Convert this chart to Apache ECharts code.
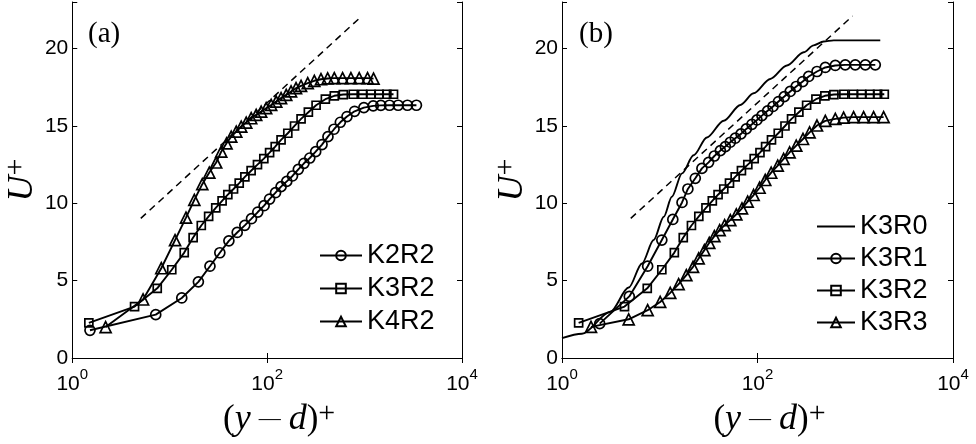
<!DOCTYPE html>
<html><head><meta charset="utf-8">
<script src="https://cdn.jsdelivr.net/npm/echarts@6/dist/echarts.min.js"></script>
<style>html,body{margin:0;padding:0;background:#fff}#c{width:976px;height:444px}</style>
</head><body><div id="c"></div>
<script>
// ---- tick labels ----
const xTicks = [1, 100, 10000];
const yTicks = [0, 5, 10, 15, 20];

// ---- log-law reference (dashed) ----
const logLawX = [5.05, 940];
const logLawY = [9.02, 22.1];

// ---- panel (a) ----
const k2r2X = [1.52, 7.19, 13.3, 19.7, 25.9, 32.7, 40.5, 49.3, 59.0, 69.1, 80.2, 93.1, 106, 122, 139, 159, 182, 209, 239, 274, 315, 366, 421, 486, 564, 660, 790, 984, 1227, 1469, 1803, 2213, 2754, 3406];
const k2r2Y = [1.79, 2.80, 3.88, 4.92, 5.93, 6.80, 7.57, 8.11, 8.57, 9.00, 9.43, 9.84, 10.27, 10.68, 11.07, 11.41, 11.76, 12.19, 12.58, 12.92, 13.33, 13.79, 14.30, 14.78, 15.23, 15.60, 15.94, 16.18, 16.29, 16.32, 16.33, 16.33, 16.33, 16.33];

const k3r2X = [1.48, 4.36, 7.45, 10.5, 14.1, 17.4, 21.1, 25.1, 29.7, 34.5, 39.5, 45.2, 51.7, 59.1, 68.5, 79.6, 92.5, 106, 121, 139, 163, 191, 223, 265, 318, 396, 489, 605, 765, 954, 1161, 1413, 1693, 1982];
const k3r2Y = [2.27, 3.32, 4.50, 5.70, 6.81, 7.78, 8.56, 9.15, 9.70, 10.15, 10.55, 10.92, 11.30, 11.70, 12.10, 12.49, 12.88, 13.27, 13.66, 14.09, 14.52, 14.99, 15.45, 15.88, 16.33, 16.72, 16.94, 17.02, 17.04, 17.04, 17.04, 17.04, 17.04, 17.04];

const k4r2X = [2.2, 5.33, 8.2, 11.35, 14.7, 17.9, 21.6, 25.5, 30.0, 33.8, 38.3, 42.8, 48.2, 54.2, 61.0, 68.6, 77.2, 86.8, 97.7, 110, 124, 139, 157, 176, 198, 223, 261, 305, 357, 418, 489, 595, 724, 881, 1073, 1236];
const k4r2Y = [2.0, 3.78, 5.80, 7.62, 9.07, 10.22, 11.23, 11.98, 12.63, 13.33, 13.87, 14.30, 14.63, 14.95, 15.21, 15.49, 15.71, 15.92, 16.14, 16.35, 16.57, 16.79, 17.0, 17.22, 17.43, 17.58, 17.76, 17.91, 18.01, 18.06, 18.08, 18.08, 18.08, 18.08, 18.08, 18.05];

// ---- panel (b) ----
const k3r0X = [1, 1.60, 3.12, 4.81, 6.58, 8.66, 11.0, 13.3, 16.9, 22.2, 30.4, 45.1, 66.8, 91.3, 135, 200, 297, 375, 475, 601, 1803];
const k3r0Y = [1.29, 1.57, 2.98, 4.55, 6.11, 7.62, 9.13, 10.42, 11.93, 13.1, 14.25, 15.33, 16.35, 17.1, 18.03, 18.9, 19.75, 20.2, 20.45, 20.52, 20.52];

const k3r1X = [2.43, 4.88, 7.52, 10.5, 13.6, 16.9, 19.4, 23.1, 27.0, 31.6, 36.2, 41.7, 46.9, 52.7, 59.3, 67.8, 76.8, 87.7, 98.8, 111, 127, 144, 164, 188, 216, 249, 290, 334, 406, 494, 625, 790, 1000, 1268, 1603];
const k3r1Y = [2.22, 3.98, 5.93, 7.62, 8.95, 10.05, 10.92, 11.61, 12.25, 12.64, 13.05, 13.40, 13.66, 13.94, 14.20, 14.48, 14.80, 15.10, 15.38, 15.66, 15.97, 16.25, 16.57, 16.89, 17.22, 17.54, 17.86, 18.19, 18.51, 18.77, 18.90, 18.94, 18.94, 18.94, 18.94];

const k3r3X = [1.98, 4.81, 7.52, 10.1, 12.8, 15.6, 18.7, 21.9, 25.0, 28.6, 32.1, 36.2, 41.0, 46.1, 52.7, 60.7, 69.4, 79.3, 91.3, 105, 120, 138, 161, 185, 213, 249, 292, 341, 406, 494, 625, 760, 962, 1218, 1541, 1951];
const k3r3Y = [2.01, 2.50, 3.09, 3.62, 4.21, 4.77, 5.35, 5.89, 6.43, 6.97, 7.44, 7.87, 8.26, 8.59, 8.91, 9.28, 9.67, 10.10, 10.53, 11.00, 11.50, 11.97, 12.43, 12.86, 13.29, 13.72, 14.15, 14.58, 15.02, 15.32, 15.45, 15.53, 15.56, 15.56, 15.56, 15.56];

const legendA = ['K2R2', 'K3R2', 'K4R2'];
const legendB = ['K3R0', 'K3R1', 'K3R2', 'K3R3'];

const zip = (xs, ys) => xs.map((x, i) => [x, ys[i]]);
const SANS = 'Liberation Sans';
const SERIF = 'Liberation Serif';

function xAxes(gi) {
  const base = {
    type: 'log', logBase: 10, min: 1, max: 10000, interval: 2, gridIndex: gi,
    axisLine: { show: true, lineStyle: { color: '#000', width: 1 } },
    axisTick: { show: true, inside: true, length: 5, lineStyle: { color: '#000', width: 1 } },
    minorTick: { show: false }, splitLine: { show: false }
  };
  return [
    Object.assign({}, base, {
      position: 'bottom',
      axisLabel: {
        show: true, margin: 9,
        formatter: v => xTicks.includes(Math.round(v)) ? '{b|10}{s|' + Math.round(Math.log10(v)) + '}' : '',
        rich: {
          b: { fontFamily: SANS, fontSize: 21, color: '#000', lineHeight: 34 },
          s: { fontFamily: SANS, fontSize: 15, color: '#000', lineHeight: 15, verticalAlign: 'top' }
        }
      },
      name: '{n|(}{i|y}{sp|\u2002}{m|—}{sp|\u2002}{i|d}{n|)}{p|+}', nameLocation: 'middle', nameGap: 35,
      nameTextStyle: {
        padding: [0, 0, 0, 24],
        rich: {
          n: { fontFamily: SERIF, fontSize: 35, color: '#000', lineHeight: 40 },
          sp: { fontFamily: SERIF, fontSize: 16, color: '#000', lineHeight: 40 },
          m: { fontFamily: SERIF, fontSize: 22, color: '#000', lineHeight: 40 },
          i: { fontFamily: SERIF, fontStyle: 'italic', fontSize: 36, color: '#000', lineHeight: 40 },
          p: { fontFamily: SERIF, fontSize: 30, color: '#000', lineHeight: 26, verticalAlign: 'top' }
        }
      }
    }),
    Object.assign({}, base, { position: 'top', axisLabel: { show: false } })
  ];
}

function yAxes(gi) {
  const base = {
    type: 'value', min: 0, max: 23, interval: 5, gridIndex: gi,
    axisLine: { show: true, lineStyle: { color: '#000', width: 1 } },
    axisTick: { show: true, inside: true, length: 5, lineStyle: { color: '#000', width: 1 } },
    splitLine: { show: false }
  };
  return [
    Object.assign({}, base, {
      position: 'left',
      axisLabel: {
        show: true, margin: 4, fontFamily: SANS, fontSize: 21, color: '#000',
        formatter: v => yTicks.includes(v) ? String(v) : ''
      },
      name: '{u|U}{p|+}', nameLocation: 'middle', nameGap: 21,
      nameTextStyle: {
        rich: {
          u: { fontFamily: SERIF, fontStyle: 'italic', fontSize: 36, color: '#000', lineHeight: 44 },
          p: { fontFamily: SERIF, fontSize: 30, color: '#000', lineHeight: 28, verticalAlign: 'top' }
        }
      }
    }),
    Object.assign({}, base, { position: 'right', axisLabel: { show: false } })
  ];
}

function markerSeries(name, xs, ys, symbol, size, gi) {
  return {
    name, type: 'line', xAxisIndex: gi * 2, yAxisIndex: gi * 2,
    data: zip(xs, ys), symbol, symbolSize: size, showAllSymbol: true,
    lineStyle: { color: '#000', width: 1.9 },
    itemStyle: { color: 'rgba(255,255,255,0)', borderColor: '#000', borderWidth: 1.7 },
    emphasis: { disabled: true }, z: 3
  };
}
function dashSeries(gi) {
  return {
    name: 'loglaw' + gi, type: 'line', xAxisIndex: gi * 2, yAxisIndex: gi * 2,
    data: zip(logLawX, logLawY), symbol: 'none',
    lineStyle: { color: '#000', width: 1.5, type: [7, 5] }, z: 2
  };
}

const legendCommon = {
  orient: 'vertical', itemGap: 1, itemHeight: 12,
  textStyle: { fontFamily: SANS, fontSize: 27, color: '#000', lineHeight: 31 },
  selectedMode: false
};

const option = {
  animation: false,
  backgroundColor: '#fff',
  title: [
    { text: '(a)', left: 83, top: 15, textStyle: { fontFamily: SERIF, fontSize: 29, fontWeight: 'normal', color: '#000' } },
    { text: '(b)', left: 574, top: 15, textStyle: { fontFamily: SERIF, fontSize: 29, fontWeight: 'normal', color: '#000' } }
  ],
  grid: [
    { left: 71, top: 2, width: 391, height: 356 },
    { left: 562, top: 2, width: 391, height: 356 }
  ],
  xAxis: [...xAxes(0), ...xAxes(1)],
  yAxis: [...yAxes(0), ...yAxes(1)],
  legend: [
    Object.assign({}, legendCommon, { data: legendA, left: 314, top: 235, itemWidth: 42, itemGap: 2 }),
    Object.assign({}, legendCommon, { data: legendB, left: 811, top: 206, itemWidth: 38 })
  ],
  series: [
    dashSeries(0),
    markerSeries('K2R2', k2r2X, k2r2Y, 'circle', 10, 0),
    markerSeries('K3R2', k3r2X, k3r2Y, 'rect', 8, 0),
    markerSeries('K4R2', k4r2X, k4r2Y, 'triangle', 11, 0),
    dashSeries(1),
    {
      name: 'K3R0', type: 'line', xAxisIndex: 2, yAxisIndex: 2,
      data: zip(k3r0X, k3r0Y), symbol: 'none', smooth: 0.3, smoothMonotone: 'x',
      lineStyle: { color: '#000', width: 1.9 }, itemStyle: { color: 'rgba(0,0,0,0)', borderColor: 'rgba(0,0,0,0)' }, z: 3
    },
    markerSeries('K3R1', k3r1X, k3r1Y, 'circle', 10, 1),
    markerSeries('K3R2', k3r2X, k3r2Y, 'rect', 8, 1),
    markerSeries('K3R3', k3r3X, k3r3Y, 'triangle', 11, 1)
  ]
};

const chart = echarts.init(document.getElementById('c'), null, { renderer: 'canvas' });
chart.setOption(option);
</script>
</body></html>
